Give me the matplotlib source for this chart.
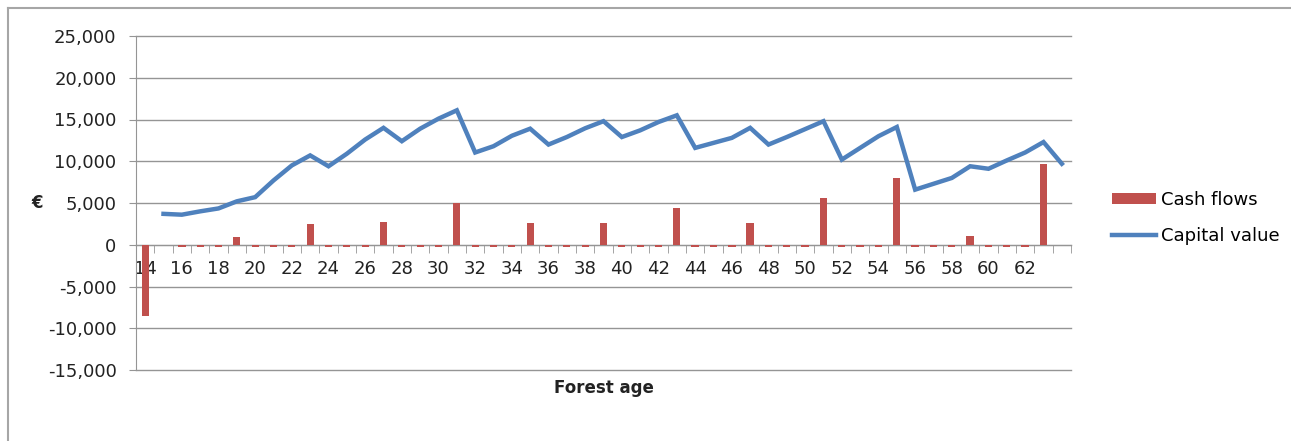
"""
forest cash flows and capital value by age
"""
import numpy as np
import matplotlib
matplotlib.use("Agg")
import matplotlib.pyplot as plt
from matplotlib.ticker import FuncFormatter, FixedLocator
from matplotlib.lines import Line2D

ages = list(range(14, 65))

cash_flows = [
    -8500, 0, -300, -300, -300, 900, -300, -300, -300, 2500,
    -300, -300, -300, 2700, -300, -300, -300, 5000, -300, -300,
    -300, 2600, -300, -300, -300, 2600, -300, -300, -300, 4400,
    -300, -300, -300, 2600, -300, -300, -300, 5600, -300, -300,
    -300, 8000, -300, -300, -300, 1000, -300, -300, -300, 9700,
    0,
]

capital_value = [
    np.nan, 3700, 3600, 4000, 4350, 5200, 5700, 7700, 9500, 10700,
    9400, 10900, 12600, 14000, 12400, 13900, 15100, 16100, 11050, 11800,
    13050, 13900, 12000, 12900, 13950, 14800, 12900, 13700, 14700, 15500,
    11600, 12200, 12800, 14000, 12000, 12900, 13850, 14800, 10200, 11600,
    13000, 14100, 6600, 7300, 8000, 9400, 9100, 10100, 11050, 12300,
    9700,
]

BAR_COLOR = "#C0504D"
LINE_COLOR = "#4F81BD"
GRID_COLOR = "#959595"

plt.rcParams["font.family"] = ["DejaVu Sans"]

fig = plt.figure(figsize=(12.91, 4.41), dpi=100)
ax = fig.add_axes([136 / 1291, 1 - 370 / 441, (1071 - 136) / 1291, (370 - 36) / 441])

x = np.arange(len(ages))
bars = ax.bar(x, cash_flows, width=0.4, color=BAR_COLOR, label="Cash flows", zorder=3)
line, = ax.plot(x, capital_value, color=LINE_COLOR, lw=3.2, label="Capital value",
                solid_joinstyle="miter", zorder=4)

ax.set_xlim(-0.5, len(ages) - 0.5)
ax.set_ylim(-15000, 25000)
ax.set_yticks(np.arange(-15000, 25001, 5000))
ax.yaxis.set_major_formatter(FuncFormatter(lambda v, _p: f"{v:,.0f}"))
ax.grid(axis="y", color=GRID_COLOR, lw=1.0, zorder=0)
ax.set_axisbelow(True)
for gl in ax.get_ygridlines():
    gl.set_clip_on(False)

for side in ("top", "right"):
    ax.spines[side].set_visible(False)
ax.spines["left"].set_color(GRID_COLOR)
ax.spines["bottom"].set_position(("data", 0))
ax.spines["bottom"].set_color(GRID_COLOR)

major = x[::2][:-1]
ax.set_xticks(major)
ax.set_xticklabels([str(a) for a in ages[::2][:-1]])
ax.xaxis.set_minor_locator(FixedLocator(np.arange(-0.5, len(ages), 1.0)))
ax.tick_params(axis="x", which="major", length=0, pad=11, labelsize=13, colors="#222222")
ax.tick_params(axis="x", which="minor", length=6, direction="out", color=GRID_COLOR)
ax.tick_params(axis="y", length=5, direction="out", color=GRID_COLOR, pad=9,
               labelsize=13, labelcolor="#222222")

fig.text((136 + 1071) / 2 / 1291, 1 - 388 / 441, "Forest age", ha="center", va="center",
         fontsize=12, fontweight="bold", color="#222222")
fig.text(37 / 1291, 1 - 203 / 441, "€", ha="center", va="center",
         fontsize=12, fontweight="bold", color="#222222")

fig.legend([bars, line], ["Cash flows", "Capital value"],
           loc="center left", bbox_to_anchor=(1096 / 1291, 1 - 218 / 441),
           frameon=False, fontsize=13, handlelength=2.4, handletextpad=0.3,
           labelspacing=1.0, handleheight=0.6)

# chart area border (top and left edges only are visible in the crop)
top = 1 - 7.5 / 441
left = 7.5 / 1291
fig.add_artist(Line2D([left, 1.0], [top, top], transform=fig.transFigure,
                      color="#A6A6A6", lw=1.5))
fig.add_artist(Line2D([left, left], [0.0, top], transform=fig.transFigure,
                      color="#A6A6A6", lw=1.5))

fig.savefig("out.png", dpi=100)
